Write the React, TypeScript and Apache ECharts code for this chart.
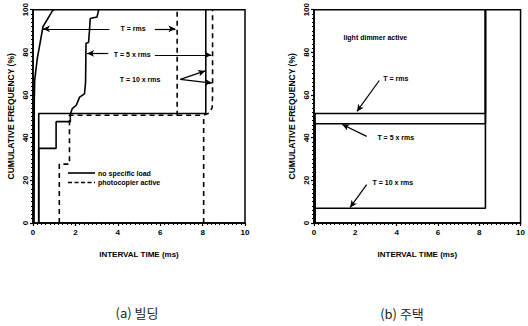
import { useEffect, useRef } from "react";
import * as echarts from "echarts";

// ---- axes ----
const xTickLabels = [0, 2, 4, 6, 8, 10];
const yTickLabels = [0, 20, 40, 60, 80, 100];

// ---- (a) building: solid = no specific load ----
const aSolidRms = [[0.05, 0], [0.06, 58], [0.08, 67], [0.2, 77], [0.31, 83], [0.47, 92], [0.62, 94.5], [0.93, 99.7], [1.0, 100]];
const aSolid5 = [[0.27, 0], [0.27, 35], [1.09, 35], [1.09, 47.5], [1.76, 47.5], [1.76, 51], [1.85, 53.6], [2.04, 55.2], [2.2, 59], [2.43, 60.5], [2.48, 66], [2.5, 84.3], [2.62, 84.6], [2.66, 89.7], [2.7, 95.9], [3.02, 96.6], [3.1, 100]];
const aSolid10 = [[0.27, 0], [0.27, 51.3], [8.15, 51.3], [8.15, 100]];
// ---- (a) building: dashed = photocopier active ----
const aDashRms = [[1.24, 0], [1.24, 27.6], [1.72, 27.6], [1.72, 50.5], [6.8, 50.5], [6.8, 100]];
const aDash5 = [[6.8, 50.5], [8.05, 50.5], [8.3, 51.5], [8.45, 54], [8.47, 60], [8.47, 100]];
const aDash10 = [[8.05, 0], [8.05, 50.5]];

// ---- (b) house: light dimmer active ----
const bRms = [[0.05, 0], [0.05, 51.3], [8.3, 51.3], [8.3, 100]];
const b5 = [[0.05, 0], [0.05, 46.5], [8.3, 46.5], [8.3, 100]];
const b10 = [[0.05, 0], [0.05, 6.9], [8.3, 6.9], [8.3, 100]];

// ---- annotations (data coordinates) ----
const aArrows = [
  [[3.6, 91], [0.47, 91]],
  [[5.75, 91], [6.72, 91]],
  [[3.55, 79.5], [2.55, 79.5]],
  [[5.75, 78.8], [8.42, 78.8]],
  [[6.95, 67.3], [8.12, 71.3]],
  [[6.95, 67.3], [8.44, 65.6]],
];
const aTexts = [
  { t: "T = rms", p: [4.72, 91.2] },
  { t: "T = 5 x rms", p: [4.68, 79.0] },
  { t: "T = 10 x rms", p: [5.05, 67.3] },
];
const bArrows = [
  [[3.16, 66.8], [2.08, 52.3]],
  [[2.55, 40.6], [1.37, 46.2]],
  [[2.55, 18.0], [1.75, 7.3]],
];
const bTexts = [
  { t: "light dimmer active", p: [2.97, 87] },
  { t: "T = rms", p: [3.96, 67.7] },
  { t: "T = 5 x rms", p: [3.96, 40] },
  { t: "T = 10 x rms", p: [3.82, 18.9] },
];
const legendNames = ["no specific load", "photocopier active"];

const FONT = '"Liberation Sans", Arial, sans-serif';

export default function App() {
  const ref = useRef<HTMLDivElement>(null);
  useEffect(() => {
    if (!ref.current) return;
    const chart = echarts.init(ref.current, null, { renderer: "svg" });

    const xMin = xTickLabels[0];
    const xMax = xTickLabels[xTickLabels.length - 1];
    const xInt = xTickLabels[1] - xTickLabels[0];
    const yMin = yTickLabels[0];
    const yMax = yTickLabels[yTickLabels.length - 1];
    const yInt = yTickLabels[1] - yTickLabels[0];

    const mkX = (gi: number) => ({
      type: "value",
      gridIndex: gi,
      min: xMin,
      max: xMax,
      interval: xInt,
      axisLine: { show: true, lineStyle: { color: "#000", width: 1.5 } },
      axisTick: { show: true, length: 3, lineStyle: { color: "#000", width: 1.2 } },
      minorTick: { show: true, splitNumber: 10, length: 2, lineStyle: { color: "#000", width: 1 } },
      splitLine: { show: false },
      axisLabel: { color: "#000", fontSize: 8, fontWeight: "bold", fontFamily: FONT, margin: 5 },
      name: "INTERVAL TIME (ms)",
      nameLocation: "middle",
      nameGap: 27,
      nameTextStyle: { color: "#000", fontSize: 8, fontWeight: "bold", fontFamily: FONT },
    });
    const mkY = (gi: number) => ({
      type: "value",
      gridIndex: gi,
      min: yMin,
      max: yMax,
      interval: yInt,
      axisLine: { show: true, lineStyle: { color: "#000", width: 1.5 } },
      axisTick: { show: true, length: 3, lineStyle: { color: "#000", width: 1.2 } },
      minorTick: { show: true, splitNumber: 10, length: 2, lineStyle: { color: "#000", width: 1 } },
      splitLine: { show: false },
      axisLabel: { color: "#000", fontSize: 8, fontWeight: "bold", fontFamily: FONT, rotate: 90, margin: 4 },
      name: "CUMULATIVE FREQUENCY (%)",
      nameLocation: "middle",
      nameRotate: 90,
      nameGap: 18,
      nameTextStyle: { color: "#000", fontSize: 8.5, fontWeight: "bold", fontFamily: FONT },
    });

    const solid = { color: "#000", width: 1.6, type: "solid" };
    const dashed = { color: "#000", width: 1.6, type: [5, 4] };
    const mkLine = (name: string, gi: number, data: number[][], ls: any) => ({
      name,
      type: "line",
      xAxisIndex: gi,
      yAxisIndex: gi,
      data,
      showSymbol: false,
      symbol: "none",
      lineStyle: ls,
      itemStyle: { color: "#000" },
      silent: true,
    });
    const mkArrows = (gi: number, arrows: number[][][]) => ({
      type: "line",
      xAxisIndex: gi,
      yAxisIndex: gi,
      data: [],
      silent: true,
      markLine: {
        silent: true,
        symbol: ["none", "arrow"],
        symbolSize: [5, 7],
        label: { show: false },
        lineStyle: { color: "#000", width: 1.2, type: "solid" },
        data: arrows.map((a) => [{ coord: a[0] }, { coord: a[1] }]),
      },
    });

    const option: any = {
      animation: false,
      backgroundColor: "#fff",
      grid: [
        { left: 33, top: 6, width: 212, height: 217, show: true, borderColor: "#000", borderWidth: 1.5, backgroundColor: "transparent" },
        { left: 314, top: 7, width: 212, height: 216, show: true, borderColor: "#000", borderWidth: 1.5, backgroundColor: "transparent" },
      ],
      xAxis: [mkX(0), mkX(1)],
      yAxis: [mkY(0), mkY(1)],
      series: [
        mkLine(legendNames[0], 0, aSolidRms, solid),
        mkLine(legendNames[0], 0, aSolid5, solid),
        mkLine(legendNames[0], 0, aSolid10, solid),
        mkLine(legendNames[1], 0, aDashRms, dashed),
        mkLine(legendNames[1], 0, aDash5, dashed),
        mkLine(legendNames[1], 0, aDash10, dashed),
        mkLine("T = rms", 1, bRms, solid),
        mkLine("T = 5 x rms", 1, b5, solid),
        mkLine("T = 10 x rms", 1, b10, solid),
        mkArrows(0, aArrows),
        mkArrows(1, bArrows),
      ],
    };
    chart.setOption(option);

    const txt = (gi: number, t: string, p: number[]) => {
      const px = chart.convertToPixel({ gridIndex: gi }, p) as number[];
      return {
        type: "text",
        x: px[0],
        y: px[1],
        silent: true,
        style: { text: t, font: `bold 7px ${FONT}`, fill: "#000", align: "center", verticalAlign: "middle" },
      };
    };
    // legend drawn as graphic (line sample + text)
    const legendItems = legendNames.map((n, i) => {
      const y = 173 + i * 9.5;
      return {
        type: "group",
        children: [
          {
            type: "line",
            shape: { x1: 68, y1: y, x2: 95, y2: y },
            style: { stroke: "#000", lineWidth: 1.6, lineDash: i === 0 ? null : [4, 2.5] },
          },
          {
            type: "text",
            x: 98,
            y,
            style: { text: n, font: `bold 7px ${FONT}`, fill: "#000", align: "left", verticalAlign: "middle" },
          },
        ],
      };
    });
    const graphics: any[] = [
      ...aTexts.map((d) => txt(0, d.t, d.p)),
      ...bTexts.map((d) => txt(1, d.t, d.p)),
      ...legendItems,
      {
        type: "text",
        x: 137,
        y: 312,
        style: { text: "(a) 빌딩", font: '13px "Noto Sans CJK KR"', fill: "#222", align: "center", verticalAlign: "middle" },
      },
      {
        type: "text",
        x: 402,
        y: 313,
        style: { text: "(b) 주택", font: '13px "Noto Sans CJK KR"', fill: "#222", align: "center", verticalAlign: "middle" },
      },
    ];
    chart.setOption({ graphic: graphics });

    return () => chart.dispose();
  }, []);
  return <div ref={ref} style={{ position: "fixed", left: 0, top: 0, width: 528, height: 326 }} />;
}
